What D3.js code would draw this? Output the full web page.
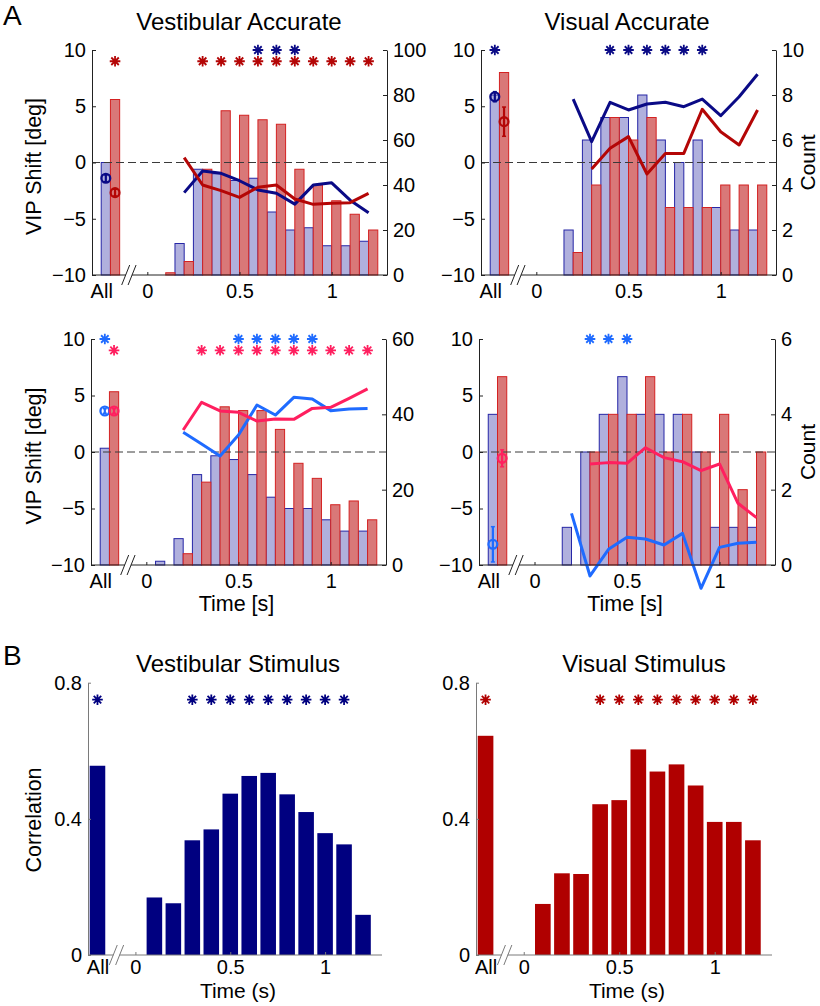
<!DOCTYPE html>
<html><head><meta charset="utf-8">
<script src="https://cdn.jsdelivr.net/npm/d3@7"></script>
<style>
body{margin:0;background:#fff}
svg{display:block}
</style>
</head><body>
<svg id="c" width="820" height="1006"></svg>
<script>
// ---------------- DATA ----------------
const binTimes = [0.1,0.2,0.3,0.4,0.5,0.6,0.7,0.8,0.9,1.0,1.1,1.2];
const lineTimes = [0.2,0.3,0.4,0.5,0.6,0.7,0.8,0.9,1.0,1.1,1.2];
const lineTimesLate = [0.3,0.4,0.5,0.6,0.7,0.8,0.9,1.0,1.1,1.2];
const xTickLabelsA = ["All","0","0.5","1"];
const vipTicks = [-10,-5,0,5,10];
const corrTicks = [0,0.4,0.8];

// A1: Vestibular Accurate
const va_countBlue = [0,14,47,45,42,43,28,20,21,13,13,15];
const va_countRed  = [1,6,47,73,71,69,67,47,40,33,27,20];
const va_allCount  = [50,78];
const va_shiftBlue = [-2.68,-0.76,-0.96,-1.62,-2.44,-2.74,-3.70,-2.01,-1.81,-3.35,-4.47];
const va_shiftRed  = [0.43,-2.0,-2.5,-3.1,-2.2,-2.0,-3.24,-3.72,-3.63,-3.57,-2.74];
const va_allShift  = [-1.4,-2.68];
const va_allErr    = [0.3,0.3];
const va_starsBlue = [0.6,0.7,0.8];
const va_starsRed  = ["All",0.3,0.4,0.5,0.6,0.7,0.8,0.9,1.0,1.1,1.2];
const va_countTicks = [0,20,40,60,80,100];

// A2: Visual Accurate
const vi_countBlue = [0,2,6,7,7,8,6,5,6,3,2,2];
const vi_countRed  = [0,1,4,7,6,7,3,3,3,4,4,4];
const vi_allCount  = [8,9];
const vi_shiftBlue = [5.64,1.85,5.35,4.67,5.2,5.35,4.96,5.64,4.16,5.85,7.84];
const vi_shiftRed  = [-0.58,1.26,2.30,-1.02,0.81,0.81,4.73,2.74,1.56,4.67];
const vi_allShift  = [5.85,3.63];
const vi_allErr    = [0.45,1.3];
const vi_starsBlue = ["All",0.4,0.5,0.6,0.7,0.8,0.9];
const vi_starsRed  = [];
const vi_countTicks = [0,2,4,6,8,10];

// A3: Vestibular Accurate (second group)
const vb_countBlue = [1,7,24,29,28,24,18,15,15,12,9,9];
const vb_countRed  = [0,3,22,42,41,41,36,27,23,16,17,12];
const vb_allCount  = [31,46];
const vb_shiftBlue = [1.74,0.71,-0.35,1.50,4.16,3.27,4.84,4.69,3.66,3.81,3.86];
const vb_shiftRed  = [1.95,4.40,3.63,3.51,2.74,2.92,2.89,3.86,3.95,4.75,5.58];
const vb_allShift  = [3.63,3.63];
const vb_allErr    = [0.2,0.2];
const vb_starsBlue = ["All",0.5,0.6,0.7,0.8,0.9];
const vb_starsRed  = ["All",0.3,0.4,0.5,0.6,0.7,0.8,0.9,1.0,1.1,1.2];
const vb_countTicks = [0,20,40,60];

// A4: Visual Accurate (second group)
const wb_countBlue = [0,1,3,4,5,4,4,4,3,1,1,1];
const wb_countRed  = [0,0,3,4,4,5,3,4,3,4,2,3];
const wb_allCount  = [4,5];
const wb_shiftBlue = [-5.43,-10.97,-8.61,-7.55,-7.70,-8.23,-7.20,-12.06,-8.44,-8.08,-7.99];
const wb_shiftRed  = [-1.06,-0.94,-1.00,0.38,-0.50,-0.86,-1.65,-1.06,-4.54,-5.81];
const wb_allShift  = [-8.17,-0.56];
const wb_allErr    = [1.56,0.75];
const wb_starsBlue = [0.3,0.4,0.5];
const wb_starsRed  = [];
const wb_countTicks = [0,2,4,6];

// B: correlations
const vestCorrAll = 0.556;
const vestCorr = [0.169,0.152,0.337,0.369,0.474,0.526,0.535,0.472,0.42,0.358,0.325,0.118];
const vestCorrStars = ["All",0.3,0.4,0.5,0.6,0.7,0.8,0.9,1.0,1.1];
const visCorrAll = 0.644;
const visCorr = [0.150,0.240,0.238,0.443,0.455,0.604,0.539,0.560,0.498,0.391,0.391,0.337];
const visCorrStars = ["All",0.4,0.5,0.6,0.7,0.8,0.9,1.0,1.1,1.2];

// ---------------- STYLE ----------------
const FONT = '"Liberation Sans", Arial, Helvetica, sans-serif';
const BLUE_FILL = "#b0b0dd", BLUE_EDGE = "#2626a6";
const RED_FILL = "#d97878", RED_EDGE = "#d42222";
const NAVY = "#0a0a86", DRED = "#b40606";
const LBLUE = "#1f6bff", PINK = "#ff1f5f";
const B_BLUE = "#000080", B_RED = "#b00000";
const ALL_T = -0.2, BREAK_T = -0.1;

const svg = d3.select("#c");
const minusFmt = v => (v < 0 ? "\u2212" + Math.abs(v) : String(v));

function starPath(cx, cy, r) {
  const p = d3.path();
  for (let k = 0; k < 4; k++) {
    const a = k * Math.PI / 4;
    p.moveTo(cx - r * Math.cos(a), cy - r * Math.sin(a));
    p.lineTo(cx + r * Math.cos(a), cy + r * Math.sin(a));
  }
  return p.toString();
}

function styleAxis(sel, color) {
  sel.attr("font-size", 20).attr("font-family", FONT);
  sel.select(".domain").attr("stroke", color);
  sel.selectAll(".tick line").attr("stroke", color);
  sel.selectAll(".tick text").attr("fill", "#000");
}

function drawBreakAxis(g, x, yb, x0, x1, color) {
  const xb = x(BREAK_T);
  g.append("line").attr("x1", x0).attr("x2", xb - 3).attr("y1", yb).attr("y2", yb).attr("stroke", color);
  g.append("line").attr("x1", xb + 3).attr("x2", x1).attr("y1", yb).attr("y2", yb).attr("stroke", color);
  [-3.2, 3.2].forEach(o => {
    g.append("line").attr("x1", xb + o - 4).attr("y1", yb + 10).attr("x2", xb + o + 4).attr("y2", yb - 10)
      .attr("stroke", color).attr("stroke-width", 1);
  });
}

function panelA(cfg) {
  const g = svg.append("g");
  const x = d3.scaleLinear().domain([-0.3, 1.3]).range([cfg.x0, cfg.x1]);
  const y = d3.scaleLinear().domain([-10, 10]).range([cfg.yb, cfg.yt]);
  const yc = d3.scaleLinear().domain([0, cfg.countMax]).range([cfg.yb, cfg.yt]);
  const half = 0.05;
  const bw = x(half) - x(0);

  const blueBars = [{t: ALL_T, c: cfg.allCount[0]}].concat(binTimes.map((t, i) => ({t, c: cfg.countBlue[i]})));
  const redBars = [{t: ALL_T, c: cfg.allCount[1]}].concat(binTimes.map((t, i) => ({t, c: cfg.countRed[i]})));

  g.append("g").selectAll("rect").data(blueBars.filter(d => d.c > 0)).join("rect")
    .attr("x", d => x(d.t - half)).attr("width", bw)
    .attr("y", d => yc(d.c)).attr("height", d => yc(0) - yc(d.c))
    .attr("fill", BLUE_FILL).attr("stroke", BLUE_EDGE).attr("stroke-width", 1);
  g.append("g").selectAll("rect").data(redBars.filter(d => d.c > 0)).join("rect")
    .attr("x", d => x(d.t)).attr("width", bw)
    .attr("y", d => yc(d.c)).attr("height", d => yc(0) - yc(d.c))
    .attr("fill", RED_FILL).attr("stroke", RED_EDGE).attr("stroke-width", 1);

  // zero line
  g.append("line").attr("x1", cfg.x0).attr("x2", cfg.x1).attr("y1", y(0)).attr("y2", y(0))
    .attr("stroke", "#3a3a3a").attr("stroke-width", 1).attr("stroke-dasharray", "8,4");

  // lines
  const line = d3.line().x(d => x(d[0])).y(d => y(d[1]));
  cfg.lines.forEach(L => {
    g.append("path").attr("d", line(L.t.map((t, i) => [t, L.v[i]])))
      .attr("fill", "none").attr("stroke", L.color).attr("stroke-width", 3)
      .attr("stroke-linejoin", "round");
  });

  // All markers with error bars
  const circ = [
    {t: ALL_T - 0.025, v: cfg.allShift[0], e: cfg.allErr[0], color: cfg.colors[0]},
    {t: ALL_T + 0.025, v: cfg.allShift[1], e: cfg.allErr[1], color: cfg.colors[1]}
  ];
  circ.forEach(c => {
    const cx = x(c.t);
    g.append("line").attr("x1", cx).attr("x2", cx).attr("y1", y(c.v - c.e)).attr("y2", y(c.v + c.e))
      .attr("stroke", c.color).attr("stroke-width", 2.2);
    [c.v - c.e, c.v + c.e].forEach(vv => g.append("line").attr("x1", cx - 2).attr("x2", cx + 2)
      .attr("y1", y(vv)).attr("y2", y(vv)).attr("stroke", c.color).attr("stroke-width", 1.5));
    g.append("circle").attr("cx", cx).attr("cy", y(c.v)).attr("r", 4.4)
      .attr("fill", "none").attr("stroke", c.color).attr("stroke-width", 2.3);
  });

  // stars
  const starX = (s, side) => s === "All" ? x(ALL_T + side * 0.025) : x(s);
  cfg.starsBlue.forEach(s => g.append("path").attr("d", starPath(starX(s, -1), y(10), 5.3))
    .attr("stroke", cfg.colors[0]).attr("stroke-width", 1.8).attr("fill", "none"));
  cfg.starsRed.forEach(s => g.append("path").attr("d", starPath(starX(s, 1), y(9), 5.3))
    .attr("stroke", cfg.colors[1]).attr("stroke-width", 1.8).attr("fill", "none"));

  // axes
  const axL = g.append("g").attr("transform", `translate(${cfg.x0},0)`)
    .call(d3.axisLeft(y).tickValues(vipTicks).tickSize(-4).tickSizeOuter(0).tickPadding(6).tickFormat(minusFmt));
  styleAxis(axL, "#222");
  const axR = g.append("g").attr("transform", `translate(${cfg.x1},0)`)
    .call(d3.axisRight(yc).tickValues(cfg.countTicks).tickSize(-4).tickSizeOuter(0).tickPadding(6).tickFormat(d3.format("d")));
  styleAxis(axR, "#222");

  const axB = g.append("g").attr("transform", `translate(0,${cfg.yb})`)
    .call(d3.axisBottom(x).tickValues([-0.25, 0, 0.5, 1]).tickSize(-3).tickSizeOuter(0).tickPadding(9)
      .tickFormat((d, i) => xTickLabelsA[i]));
  styleAxis(axB, "#222");
  axB.select(".domain").remove();
  axB.selectAll(".tick").filter(d => d < -0.1).select("line").remove();
  drawBreakAxis(g, x, cfg.yb, cfg.x0, cfg.x1, "#222");

  const txt = (s, tx, ty, size, rot) => {
    const t = g.append("text").text(s).attr("font-family", FONT).attr("font-size", size)
      .attr("text-anchor", "middle").attr("fill", "#000");
    if (rot) t.attr("transform", `translate(${tx},${ty}) rotate(-90)`); else t.attr("x", tx).attr("y", ty);
  };
  if (cfg.title) txt(cfg.title, cfg.titleX, cfg.yt - 20, 24);
  if (cfg.vipLabel) txt("VIP Shift [deg]", 41, (cfg.yt + cfg.yb) / 2 + 4, 21.5, true);
  if (cfg.countLabel) txt("Count", 815, (cfg.yt + cfg.yb) / 2, 21, true);
  if (cfg.timeLabel) txt("Time [s]", (cfg.x0 + cfg.x1) / 2 - 2, cfg.yb + 46, 21.5);
}

panelA({title: "Vestibular Accurate", titleX: 239, x0: 92, x1: 387, yt: 50, yb: 275, countMax: 100,
  countTicks: va_countTicks, countBlue: va_countBlue, countRed: va_countRed, allCount: va_allCount,
  allShift: va_allShift, allErr: va_allErr, starsBlue: va_starsBlue, starsRed: va_starsRed,
  colors: [NAVY, DRED],
  lines: [{t: lineTimes, v: va_shiftBlue, color: NAVY}, {t: lineTimes, v: va_shiftRed, color: DRED}],
  vipLabel: true, countLabel: false, timeLabel: false});

panelA({title: "Visual Accurate", titleX: 627, x0: 481, x1: 776, yt: 50, yb: 275, countMax: 10,
  countTicks: vi_countTicks, countBlue: vi_countBlue, countRed: vi_countRed, allCount: vi_allCount,
  allShift: vi_allShift, allErr: vi_allErr, starsBlue: vi_starsBlue, starsRed: vi_starsRed,
  colors: [NAVY, DRED],
  lines: [{t: lineTimes, v: vi_shiftBlue, color: NAVY}, {t: lineTimesLate, v: vi_shiftRed, color: DRED}],
  vipLabel: false, countLabel: true, timeLabel: false});

panelA({title: null, x0: 91, x1: 386, yt: 339, yb: 565, countMax: 60,
  countTicks: vb_countTicks, countBlue: vb_countBlue, countRed: vb_countRed, allCount: vb_allCount,
  allShift: vb_allShift, allErr: vb_allErr, starsBlue: vb_starsBlue, starsRed: vb_starsRed,
  colors: [LBLUE, PINK],
  lines: [{t: lineTimes, v: vb_shiftBlue, color: LBLUE}, {t: lineTimes, v: vb_shiftRed, color: PINK}],
  vipLabel: true, countLabel: false, timeLabel: true});

panelA({title: null, x0: 479, x1: 775, yt: 339, yb: 565, countMax: 6,
  countTicks: wb_countTicks, countBlue: wb_countBlue, countRed: wb_countRed, allCount: wb_allCount,
  allShift: wb_allShift, allErr: wb_allErr, starsBlue: wb_starsBlue, starsRed: wb_starsRed,
  colors: [LBLUE, PINK],
  lines: [{t: lineTimes, v: wb_shiftBlue, color: LBLUE}, {t: lineTimesLate, v: wb_shiftRed, color: PINK}],
  vipLabel: false, countLabel: true, timeLabel: true});

function panelB(cfg) {
  const g = svg.append("g");
  const x = d3.scaleLinear().domain([-0.25, 1.3]).range([cfg.x0, cfg.x1]);
  const y = d3.scaleLinear().domain([0, 0.8]).range([955, 682.7]);
  const w = 0.082;
  const bars = [{t: ALL_T, v: cfg.all}].concat(binTimes.map((t, i) => ({t, v: cfg.vals[i]})));
  g.append("g").selectAll("rect").data(bars).join("rect")
    .attr("x", d => x(d.t - w / 2)).attr("width", x(w) - x(0))
    .attr("y", d => y(d.v)).attr("height", d => y(0) - y(d.v))
    .attr("fill", cfg.color);
  cfg.stars.forEach(s => g.append("path").attr("d", starPath(s === "All" ? x(ALL_T) : x(s), y(0.75), 5.3))
    .attr("stroke", cfg.color).attr("stroke-width", 1.8).attr("fill", "none"));

  const AX = "#7a7a7a";
  const axL = g.append("g").attr("transform", `translate(${cfg.x0},0)`)
    .call(d3.axisLeft(y).tickValues(corrTicks).tickSize(-3).tickSizeOuter(0).tickPadding(6).tickFormat(d => d === 0 ? "0" : String(d)));
  styleAxis(axL, AX);
  const axB = g.append("g").attr("transform", `translate(0,955)`)
    .call(d3.axisBottom(x).tickValues([ALL_T, 0, 0.5, 1]).tickSize(-3).tickSizeOuter(0).tickPadding(5)
      .tickFormat((d, i) => xTickLabelsA[i]));
  styleAxis(axB, AX);
  axB.select(".domain").remove();
  axB.selectAll(".tick").filter(d => d < -0.1).select("line").remove();
  drawBreakAxis(g, x, 955, cfg.x0, cfg.x1, AX);

  g.append("text").text(cfg.title).attr("x", cfg.titleX).attr("y", 672).attr("text-anchor", "middle")
    .attr("font-family", FONT).attr("font-size", 24);
  g.append("text").text("Time (s)").attr("x", (cfg.x0 + cfg.x1) / 2 + 3).attr("y", 998).attr("text-anchor", "middle")
    .attr("font-family", FONT).attr("font-size", 21);
  if (cfg.corrLabel) g.append("text").text("Correlation").attr("transform", "translate(41,820) rotate(-90)")
    .attr("text-anchor", "middle").attr("font-family", FONT).attr("font-size", 21.5);
}

panelB({title: "Vestibular Stimulus", titleX: 238, x0: 88, x1: 382, all: vestCorrAll, vals: vestCorr,
  stars: vestCorrStars, color: B_BLUE, corrLabel: true});
panelB({title: "Visual Stimulus", titleX: 644, x0: 476, x1: 772, all: visCorrAll, vals: visCorr,
  stars: visCorrStars, color: B_RED, corrLabel: false});

// panel letters
svg.append("text").text("A").attr("x", 3).attr("y", 25).attr("font-family", FONT).attr("font-size", 28);
svg.append("text").text("B").attr("x", 3).attr("y", 665).attr("font-family", FONT).attr("font-size", 28);
</script>
</body></html>
